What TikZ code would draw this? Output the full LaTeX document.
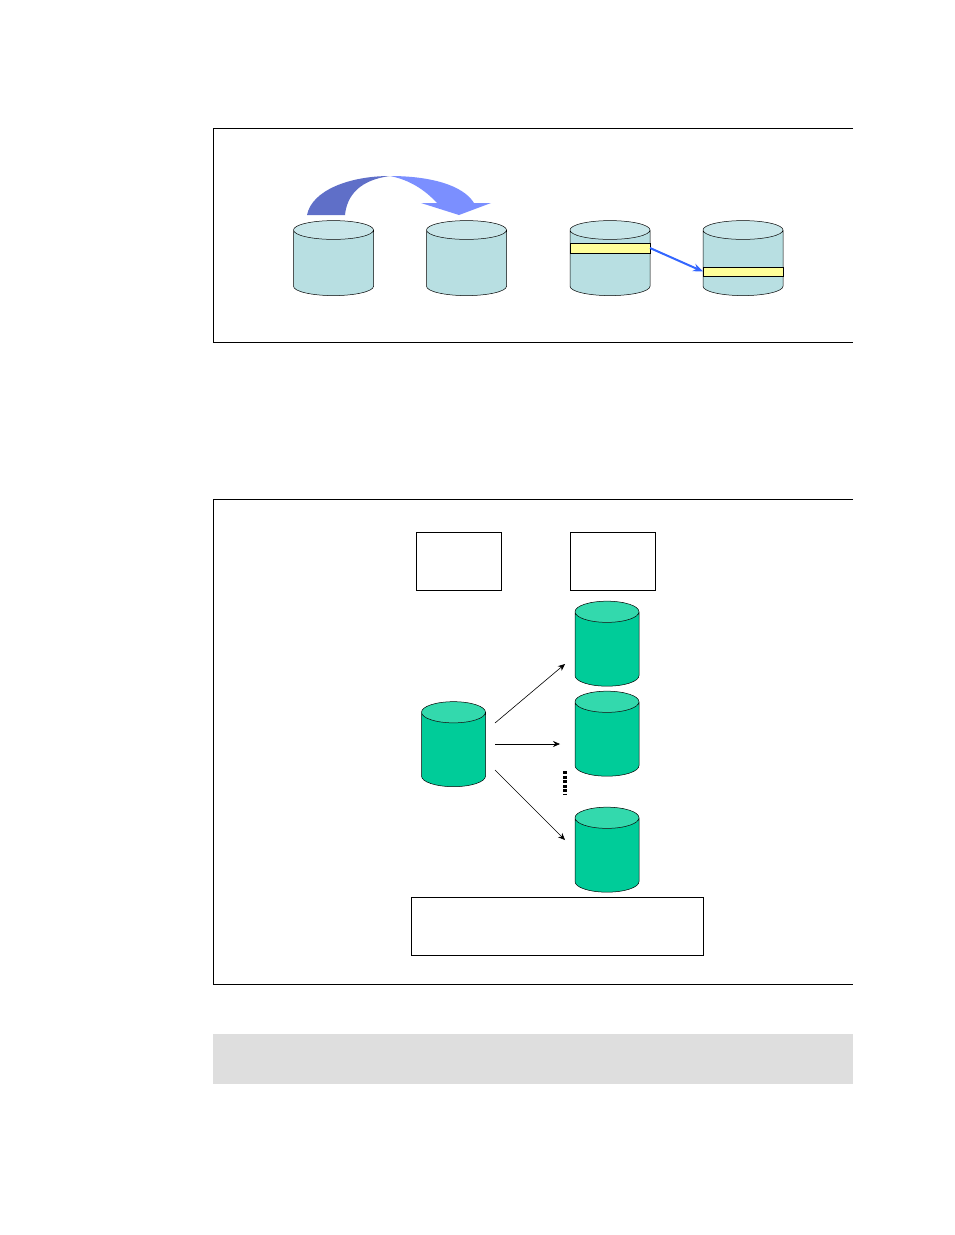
\documentclass[tikz,border=0pt]{standalone}
\definecolor{drumbody}{HTML}{B8DFE2}
\definecolor{drumtop}{HTML}{C8E6E9}
\definecolor{greenbody}{HTML}{00CC99}
\definecolor{greentop}{HTML}{33D9AD}
\definecolor{bandyellow}{HTML}{FFFF99}
\definecolor{arcdark}{HTML}{5F6FC8}
\definecolor{arclight}{HTML}{7B8FFF}
\definecolor{linkblue}{HTML}{3366FF}
\definecolor{notegray}{HTML}{DEDEDE}
\usepackage{tikz}
\usetikzlibrary{calc, positioning, shapes.geometric, arrows.meta}

\begin{document}
\begin{tikzpicture}[
  x=1pt, y=-1pt,
  drum/.style={draw=black, line width=0.5pt, cylinder, shape border rotate=90, aspect=0.47,
               cylinder uses custom fill, cylinder body fill=drumbody, cylinder end fill=drumtop,
               minimum width=80pt, minimum height=75pt, inner sep=20pt, outer sep=0pt},
  greendrum/.style={drum, aspect=0.53, cylinder body fill=greenbody, cylinder end fill=greentop,
               minimum width=64pt, minimum height=85pt},
  band/.style={draw=black, line width=0.6pt, fill=bandyellow, minimum width=80pt,
               inner sep=0pt, outer sep=0pt},
  labelbox/.style={draw=black, line width=0.5pt, fill=white, inner sep=0pt, outer sep=0pt},
  fanarrow/.style={-{Stealth[length=7pt,width=6pt]}, line width=0.6pt},
]
\useasboundingbox (0,0) rectangle (954,1235);

% upper panel
\draw[line width=0.5pt] (853,128) -- (213,128) -- (213,342.5) -- (853,342.5);
\node[drum] (d1) at (333.5,267) {};
\node[drum] (d2) at (466.5,267) {};
\node[drum] (d3) at (610,267) {};
\node[drum] (d4) at (743,267) {};
\fill[arcdark] (307,215) .. controls (312,190) and (350,176) .. (390,176)
  .. controls (360,180) and (347,195) .. (345,215) -- cycle;
\fill[arclight] (390,176) .. controls (430,176) and (463,185) .. (474,203)
  -- (491,203) -- (459,215) -- (421,203) -- (437,203)
  .. controls (425,190) and (410,180) .. (390,176) -- cycle;
\node[band, minimum height=10pt] (b1) at (610,248) {};
\node[band, minimum height=9pt] (b2) at (743,271.5) {};
\draw[-{Stealth[length=10pt,width=8pt]}, linkblue, line width=2pt] (b1.east) -- (b2.west);

% lower panel
\draw[line width=0.5pt] (853,499) -- (213,499) -- (213,984.5) -- (853,984.5);
\node[labelbox, minimum width=85pt, minimum height=58pt] (l1) at (459,561.5) {};
\node[labelbox, minimum width=85pt, minimum height=58pt] (l2) at (613,561.5) {};
\node[greendrum] (src) at (453.5,754.5) {};
\node[greendrum] (t1) at (607,654) {};
\node[greendrum] (t2) at (607,744) {};
\node[greendrum] (t3) at (607,860) {};
\coordinate (a0) at (495,723);
\coordinate (a1) at (565,664);
\coordinate (b0) at (495,744);
\coordinate (b1e) at (560,744);
\coordinate (c0) at (495,770);
\coordinate (c1) at (565,840);
\draw[fanarrow] (a0) -- (a1);
\draw[fanarrow] (b0) -- (b1e);
\draw[fanarrow] (c0) -- (c1);
\draw[line width=4pt, dash pattern=on 3pt off 1.5pt] (565,771) -- (565,795);
\node[labelbox, minimum width=292pt, minimum height=58pt] (l3) at (557.5,926.5) {};

% grey strip
\fill[notegray] (213,1034) rectangle (853,1084);
\end{tikzpicture}
\end{document}
